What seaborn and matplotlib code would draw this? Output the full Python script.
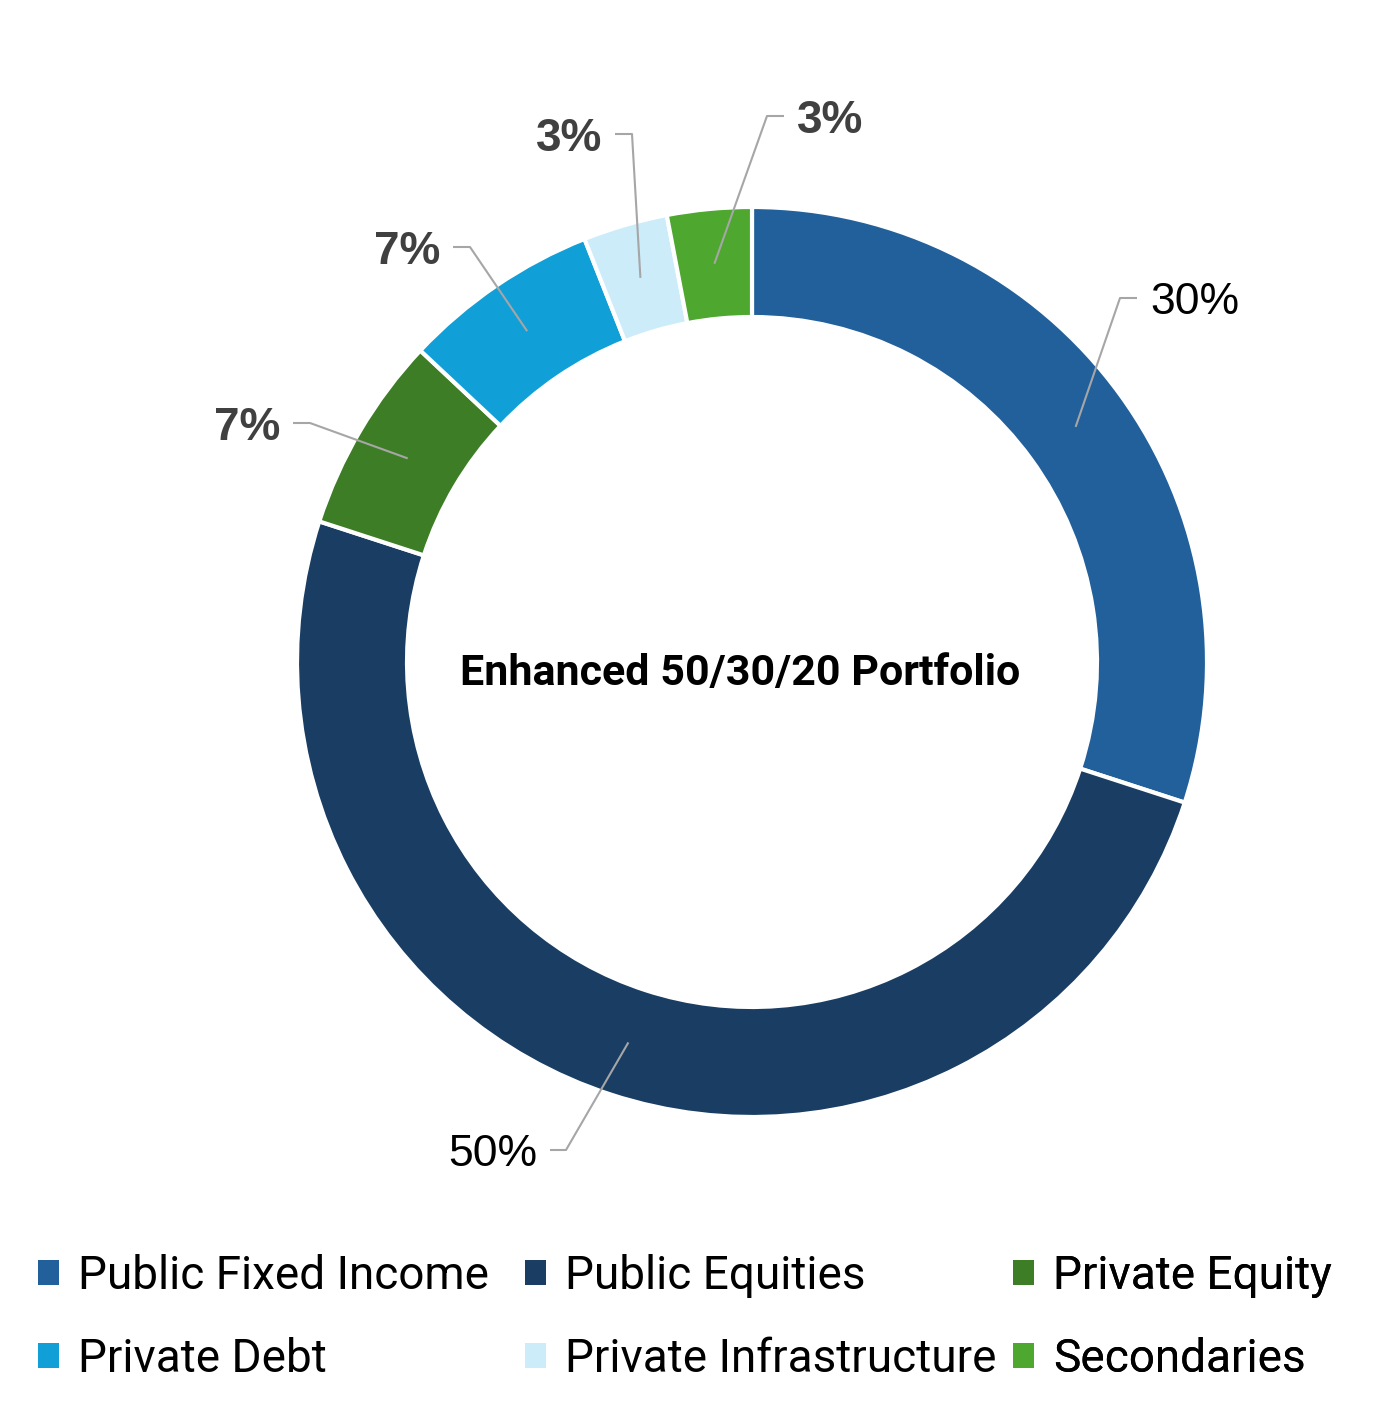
import numpy as np
import matplotlib
matplotlib.use("Agg")
import matplotlib.pyplot as plt
import seaborn as sns
from matplotlib.patches import Patch

# Portfolio allocation (clockwise from 12 o'clock)
categories = ["Public Fixed Income", "Public Equities", "Private Equity",
              "Private Debt", "Private Infrastructure", "Secondaries"]
weights = [30, 50, 7, 7, 3, 3]
pct_labels = ["30%", "50%", "7%", "7%", "3%", "3%"]
colors = ["#21609B", "#193D63", "#3D7D25", "#109FD6", "#CCECFA", "#4EA72E"]

W, H = 1379, 1415
CX, CY = 752, 662        # donut centre (pixels from top-left)
R_OUT, RING = 455, 110

# leader line elbow / end point and label side, per slice
label_layout = [
    ((1120, 298), (1137, 298), "left", False),
    ((566, 1150), (550, 1150), "right", False),
    ((310, 423), (293, 423), "right", True),
    ((470, 247), (453, 247), "right", True),
    ((632, 134), (615, 134), "right", True),
    ((767, 116), (784, 116), "left", True),
]

sns.set_theme(style="white")
plt.rcParams["font.family"] = ["Liberation Sans", "DejaVu Sans"]


def px(x, y):
    return x, H - y


fig = plt.figure(figsize=(W / 100, H / 100), dpi=100)
ax = fig.add_axes([0, 0, 1, 1])

wedges, _ = ax.pie(weights, colors=colors, startangle=90, counterclock=False,
                   radius=R_OUT, center=px(CX, CY),
                   wedgeprops=dict(width=RING, edgecolor="white", linewidth=3))
ax.set_xlim(0, W)
ax.set_ylim(0, H)
ax.set_aspect("equal")
ax.axis("off")

r_mid = R_OUT - RING / 2
for w, lab, (elbow, end, side, bold) in zip(wedges, pct_labels, label_layout):
    mid = np.deg2rad((w.theta1 + w.theta2) / 2)
    cx_, cy_ = px(CX, CY)
    anchor = (cx_ + r_mid * np.cos(mid), cy_ + r_mid * np.sin(mid))
    e = px(*elbow)
    n = px(*end)
    ax.plot([anchor[0], e[0], n[0]], [anchor[1], e[1], n[1]],
            color="#A6A6A6", lw=1.5, solid_capstyle="butt")
    tx = n[0] + (13 if side == "left" else -13)
    ax.text(tx, n[1] - 5, lab, ha=side, va="center",
            fontsize=33 if bold else 32,
            fontweight="bold" if bold else "normal",
            color="#404040" if bold else "black")

ax.text(*px(740, 673), "Enhanced 50/30/20 Portfolio", ha="center", va="center",
        fontsize=31, fontweight="bold", family=["Roboto", "DejaVu Sans"], color="black")

# legend: three columns, read row-wise
col_x = [38, 525, 1013]
for c, x0 in enumerate(col_x):
    idx = [c, c + 3]
    handles = [Patch(facecolor=colors[i], edgecolor="none", label=categories[i]) for i in idx]
    leg = ax.legend(handles=handles, ncol=1, loc="upper left",
                    bbox_to_anchor=(x0 / W, 1 - 1254 / H), frameon=False,
                    prop=dict(family=["Roboto", "DejaVu Sans"], size=33),
                    labelcolor="black",
                    handlelength=0.45, handleheight=0.45, handletextpad=0.42,
                    labelspacing=0.85, borderpad=0, borderaxespad=0)
    ax.add_artist(leg)

fig.savefig("out.png", dpi=100, facecolor="white")
